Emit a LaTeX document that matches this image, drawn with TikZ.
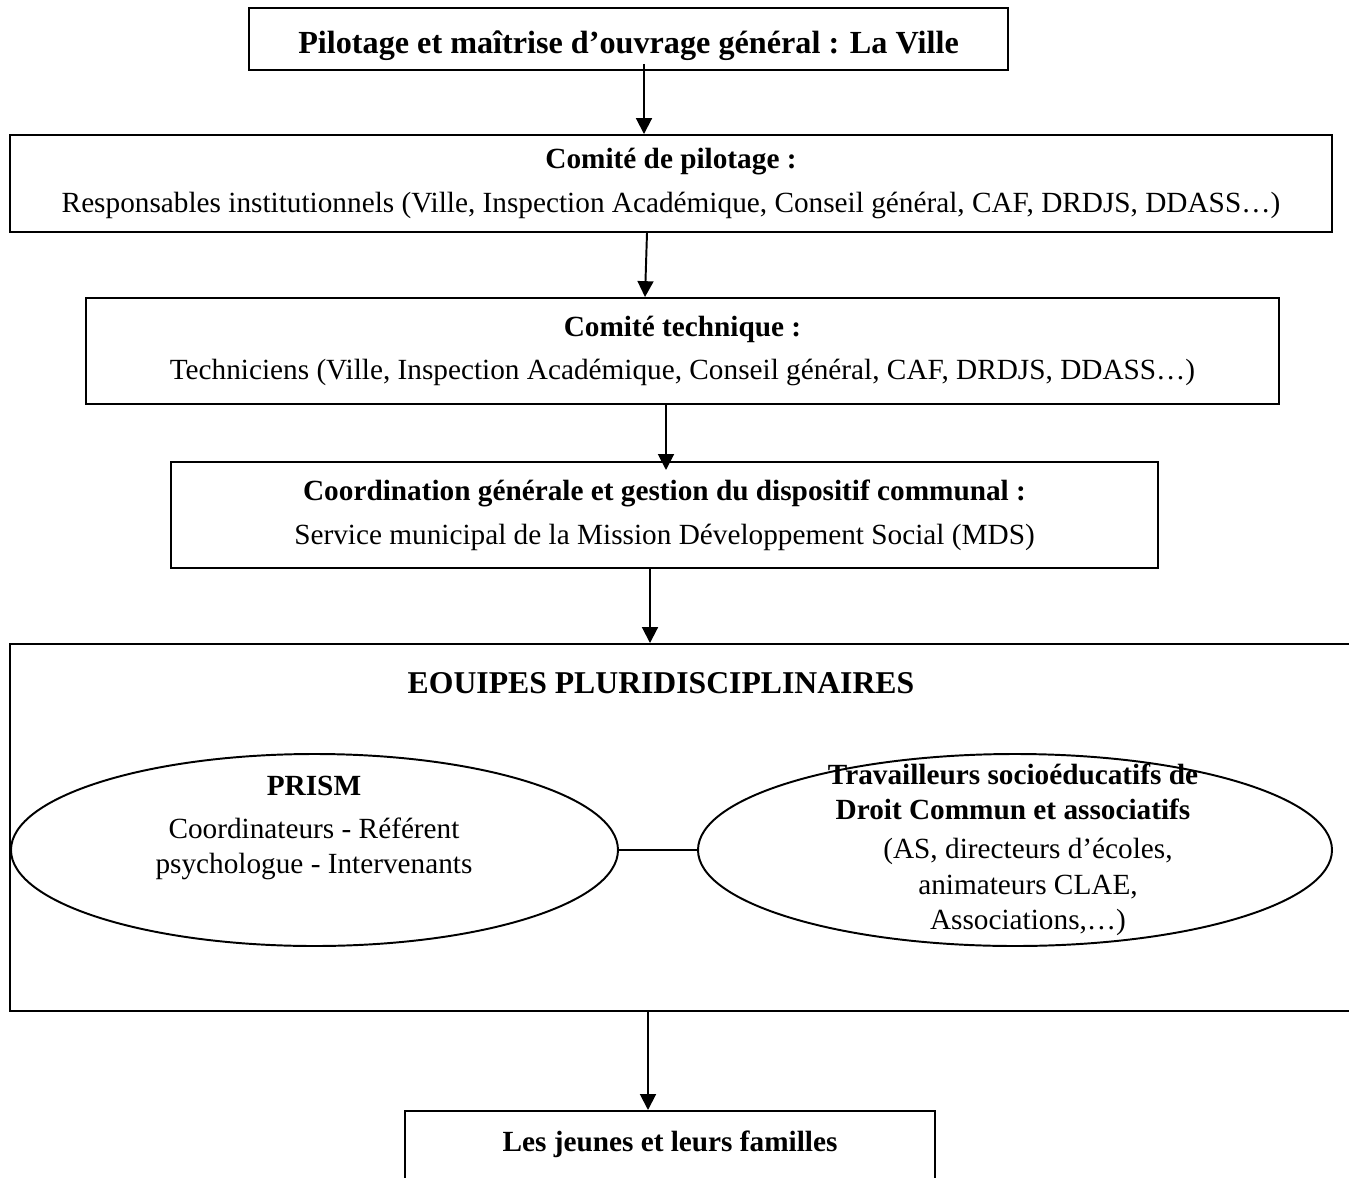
\documentclass[tikz,border=0pt]{standalone}
\usepackage{fontspec}
\setmainfont{Liberation Serif}
\usetikzlibrary{shapes.geometric,arrows.meta}

\newlength\upx
\setlength\upx{0.41pt}

\tikzset{
  cadre/.style={draw,line width=0.8pt,inner sep=0pt,align=center},
  bulle/.style={draw,ellipse,line width=0.8pt,inner sep=0pt},
  texte/.style={align=center,font=\fontsize{12}{14.4}\selectfont},
  fleche/.style={-{Triangle[length=6.5pt,width=6.5pt]},line width=0.8pt},
}

\begin{document}
\begin{tikzpicture}[x=\upx,y=-\upx,font=\fontsize{12}{18}\selectfont]
\useasboundingbox (0,0) rectangle (1349,1178);

% les cadres
\node[cadre,minimum width=759\upx,minimum height=62\upx,text height=12pt,text depth=0pt,
  font=\fontsize{13.2}{16}\selectfont\bfseries] (pilot) at (628.5,39)
  {Pilotage et maîtrise d’ouvrage général : La Ville};
\node[cadre,minimum width=1322\upx,minimum height=97\upx] (copil) at (671,183.5)
  {\textbf{Comité de pilotage :}\\Responsables institutionnels (Ville, Inspection Académique, Conseil général, CAF, DRDJS, DDASS…)};
\node[cadre,minimum width=1193\upx,minimum height=106\upx] (cotech) at (682.5,351)
  {\textbf{Comité technique :}\\Techniciens (Ville, Inspection Académique, Conseil général, CAF, DRDJS, DDASS…)};
\node[cadre,minimum width=987\upx,minimum height=106\upx] (coord) at (664.5,515)
  {\textbf{Coordination générale et gestion du dispositif communal :}\\Service municipal de la Mission Développement Social (MDS)};

% equipes
\node[cadre,minimum width=1360\upx,minimum height=367\upx] (equipes) at (690,827.5) {};
\node[font=\fontsize{13}{16}\selectfont\bfseries] (equipestitre) at (661,683) {EOUIPES PLURIDISCIPLINAIRES};
\node[bulle,minimum width=607\upx,minimum height=192\upx] (prism) at (314.5,850) {};
\node[texte] (prismtxt) at (314,828)
  {\textbf{PRISM}\\[3pt]Coordinateurs - Référent\\psychologue - Intervenants};
\node[bulle,minimum width=634\upx,minimum height=192\upx] (trav) at (1015,850) {};
\node[texte,font=\fontsize{12}{14.4}\selectfont\bfseries] (travtitre) at (1013,792)
  {Travailleurs socioéducatifs de\\Droit Commun et associatifs};
\node[texte] (travtxt) at (1028,887)
  {(AS, directeurs d’écoles,\\animateurs CLAE,\\Associations,…)};

\node[cadre,anchor=north,minimum width=530\upx,inner ysep=8pt,text depth=40pt] (jeunes) at (670,1110)
  {\textbf{Les jeunes et leurs familles}};

% liaisons
\draw[fleche] ([yshift=7\upx]pilot.south -| 644,0) -- (copil.north -| 644,0);
\draw[fleche] (copil.south -| 647,0) -- (cotech.north -| 645,0);
\draw[fleche] (cotech.south -| 666,0) -- (666,470);
\draw[fleche] (coord.south -| 650,0) -- (equipes.north -| 650,0);
\draw[line width=0.8pt] (prism.east) -- (trav.west);
\draw[fleche] (equipes.south -| 648,0) -- (jeunes.north -| 648,0);
\end{tikzpicture}
\end{document}
